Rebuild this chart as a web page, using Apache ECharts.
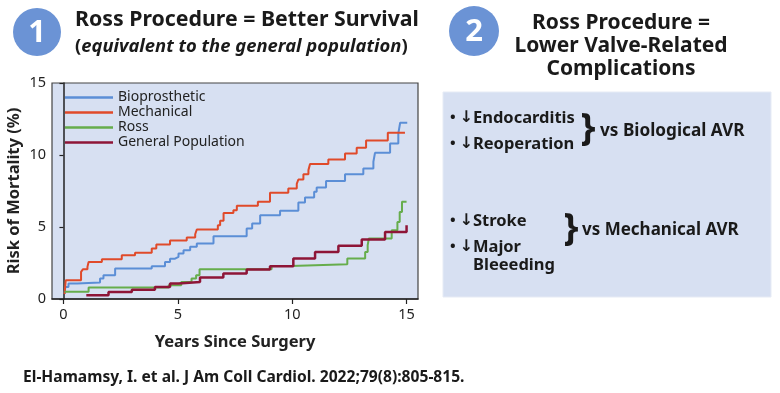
<!DOCTYPE html>
<html>
<head>
<meta charset="utf-8">
<script src="https://cdn.jsdelivr.net/npm/echarts@6/dist/echarts.min.js"></script>
<style>
html,body{margin:0;padding:0;background:#fff;}
#chart{width:780px;height:393px;}
</style>
</head>
<body>
<div id="chart"></div>
<script>
// ---- data (years since surgery, % mortality) ----
var seriesNames = ['Bioprosthetic', 'Mechanical', 'Ross', 'General Population'];
var xTicks = [0, 5, 10, 15];
var yTicks = [0, 5, 10, 15];

var bioprosthetic = [[0.05,0.37],[0.08,0.83],[0.22,1.07],[0.6,1.15],[1.6,1.42],[1.75,1.65],[2.26,2.11],[3.86,2.27],[4.44,2.57],[4.66,2.8],[4.88,2.92],[5.03,3.16],[5.25,3.39],[5.54,3.62],[5.83,3.85],[6.56,4.36],[8.01,4.9],[8.25,5.24],[8.6,5.82],[9.47,6.12],[10.27,6.7],[10.56,7.05],[10.96,7.44],[11.07,7.75],[11.48,8.2],[12.31,8.67],[13.11,9.07],[13.55,9.53],[13.62,10.15],[14.28,10.8],[14.64,11.5],[14.72,12.24],[15.03,12.24]];

var mechanical = [[0.05,0.35],[0.1,1.3],[0.77,1.88],[0.85,2.06],[1.05,2.23],[1.1,2.57],[1.68,2.76],[2.55,3.04],[3.13,3.22],[3.86,3.5],[4.06,3.78],[4.66,4.06],[5.39,4.27],[5.76,4.5],[5.83,4.83],[6.75,5.12],[6.85,5.43],[7.0,5.98],[7.43,6.17],[7.58,6.47],[8.5,6.75],[9.03,7.37],[9.83,7.68],[10.2,8.0],[10.27,8.3],[10.49,8.67],[10.71,8.95],[10.78,9.37],[11.58,9.69],[12.31,10.1],[12.82,10.5],[13.23,11.0],[14.18,11.55],[14.93,11.55]];

var ross = [[0.05,0.5],[1.1,0.8],[4.6,0.95],[5.15,1.18],[5.6,1.42],[5.8,1.65],[5.95,2.06],[9.1,2.3],[9.95,2.41],[12.41,2.81],[13.19,3.27],[13.3,3.73],[13.35,4.2],[14.35,4.78],[14.6,5.35],[14.7,6.05],[14.8,6.75],[15.0,6.75]];

var generalPopulation = [[1.0,0.26],[1.97,0.49],[2.99,0.65],[4.0,0.83],[4.66,1.07],[5.03,1.18],[5.97,1.49],[6.99,1.77],[8.01,2.04],[9.03,2.27],[10.05,2.81],[11.0,3.27],[12.02,3.69],[13.04,4.13],[14.06,4.66],[15.0,5.12]];

var colors = ['#5b8ed6', '#e04a2a', '#66ad4c', '#8e1537'];
var FONT = 'Noto Sans';

var chart = echarts.init(document.getElementById('chart'), null, {renderer:'canvas'});

function mkSeries(name, data, color, width) {
  return {
    name: name, type: 'line', step: 'end', data: data,
    symbol: 'none', showSymbol: false,
    lineStyle: {color: color, width: width},
    itemStyle: {color: color},
    z: 3
  };
}

var bulletRich = {
  b: {fontFamily: FONT, fontWeight: 'bold', fontSize: 15, fill: '#1a1a1a'},
  a: {fontFamily: 'DejaVu Sans', fontWeight: 'bold', fontSize: 16, fill: '#1a1a1a'},
  t: {fontFamily: FONT, fontWeight: 'bold', fontSize: 16.5, fill: '#1a1a1a'}
};
function bullet(x, y, label) {
  return {type:'text', x:x, y:y, style:{text:'{b|\u2022 }{a|\u2193}{t|' + label + '}', verticalAlign:'middle', rich: bulletRich}};
}

var option = {
  animation: false,
  textStyle: {fontFamily: FONT},
  grid: {
    left: 52, top: 83, width: 366, height: 216,
    show: true, backgroundColor: '#d7e0f2', borderColor: '#444', borderWidth: 1.2
  },
  legend: {
    orient: 'vertical', left: 65, top: 90, padding: 0,
    icon: 'rect', itemWidth: 48, itemHeight: 2.5, itemGap: 0,
    textStyle: {fontFamily: FONT, fontSize: 14, color: '#222', lineHeight: 15, height: 15},
    data: seriesNames
  },
  xAxis: {
    type: 'value', min: -0.5, max: 15.5,
    name: 'Years Since Surgery', nameLocation: 'middle', nameGap: 35,
    nameTextStyle: {fontFamily: FONT, fontSize: 16.5, fontWeight: 'bold', color: '#222'},
    axisLine: {show: true, lineStyle: {color: '#222', width: 1.5}},
    axisTick: {show: true, length: 5, customValues: xTicks, lineStyle: {color: '#222', width: 1.2}},
    axisLabel: {customValues: xTicks, fontFamily: FONT, fontSize: 14.5, color: '#222', margin: 8},
    splitLine: {show: false}
  },
  yAxis: {
    type: 'value', min: 0, max: 15, interval: 5,
    name: 'Risk of Mortality (%)', nameLocation: 'middle', nameGap: 29,
    nameTextStyle: {fontFamily: FONT, fontSize: 16.5, fontWeight: 'bold', color: '#222'},
    axisLine: {show: true, lineStyle: {color: '#222', width: 1.5}},
    axisTick: {show: true, length: 4, lineStyle: {color: '#222', width: 1.2}},
    axisLabel: {fontFamily: FONT, fontSize: 14.5, color: '#222', margin: 6},
    splitLine: {show: false}
  },
  series: [
    mkSeries(seriesNames[0], bioprosthetic, colors[0], 2),
    mkSeries(seriesNames[1], mechanical, colors[1], 2),
    mkSeries(seriesNames[2], ross, colors[2], 2),
    mkSeries(seriesNames[3], generalPopulation, colors[3], 2.5)
  ],
  graphic: [
    {type:'circle', shape:{cx:37, cy:32, r:24}, style:{fill:'#6b93d5'}},
    {type:'text', x:37, y:33, style:{text:'1', fill:'#fff', font:'bold 31px "Noto Sans"', align:'center', verticalAlign:'middle'}},
    {type:'text', x:75, y:20, style:{text:'Ross Procedure = Better Survival', fill:'#1a1a1a', font:'bold 21.3px "Noto Sans"', verticalAlign:'middle'}},
    {type:'text', x:75, y:47, style:{
      text:'{n|(}{i|equivalent to the general population}{n|)}',
      verticalAlign:'middle',
      rich:{
        n:{fontFamily:FONT, fontWeight:'bold', fontSize:18.4, fill:'#1a1a1a'},
        i:{fontFamily:FONT, fontWeight:'bold', fontStyle:'italic', fontSize:18.4, fill:'#1a1a1a'}
      }}},
    {type:'circle', shape:{cx:474, cy:31, r:25}, style:{fill:'#6b93d5'}},
    {type:'text', x:474, y:32, style:{text:'2', fill:'#fff', font:'bold 31px "Noto Sans"', align:'center', verticalAlign:'middle'}},
    {type:'text', x:621, y:23, style:{text:'Ross Procedure =', fill:'#1a1a1a', font:'bold 21px "Noto Sans"', align:'center', verticalAlign:'middle'}},
    {type:'text', x:621, y:46, style:{text:'Lower Valve-Related', fill:'#1a1a1a', font:'bold 21px "Noto Sans"', align:'center', verticalAlign:'middle'}},
    {type:'text', x:621, y:69, style:{text:'Complications', fill:'#1a1a1a', font:'bold 21px "Noto Sans"', align:'center', verticalAlign:'middle'}},
    {type:'rect', shape:{x:443, y:92, width:328, height:205}, style:{fill:'#d7e0f2', stroke:'#e6ebf5', lineWidth:1}},
    bullet(450, 118, 'Endocarditis'),
    bullet(450, 144, 'Reoperation'),
    {type:'text', x:588, y:129, style:{text:'}', fill:'#1a1a1a', font:'bold 38px "Noto Sans"', align:'center', verticalAlign:'middle'}},
    {type:'text', x:600, y:131, style:{text:'vs Biological AVR', fill:'#1a1a1a', font:'bold 17.2px "Noto Sans"', verticalAlign:'middle'}},
    bullet(450, 221, 'Stroke'),
    bullet(450, 247, 'Major'),
    {type:'text', x:473, y:265, style:{text:'Bleeeding', fill:'#1a1a1a', font:'bold 16.5px "Noto Sans"', verticalAlign:'middle'}},
    {type:'text', x:571, y:229, style:{text:'}', fill:'#1a1a1a', font:'bold 38px "Noto Sans"', align:'center', verticalAlign:'middle'}},
    {type:'text', x:582, y:230, style:{text:'vs Mechanical AVR', fill:'#1a1a1a', font:'bold 17px "Noto Sans"', verticalAlign:'middle'}},
    {type:'text', x:23, y:378, style:{text:'El-Hamamsy, I. et al. J Am Coll Cardiol. 2022;79(8):805-815.', fill:'#1a1a1a', font:'bold 15.6px "Noto Sans"', verticalAlign:'middle'}}
  ]
};
chart.setOption(option);
</script>
</body>
</html>
